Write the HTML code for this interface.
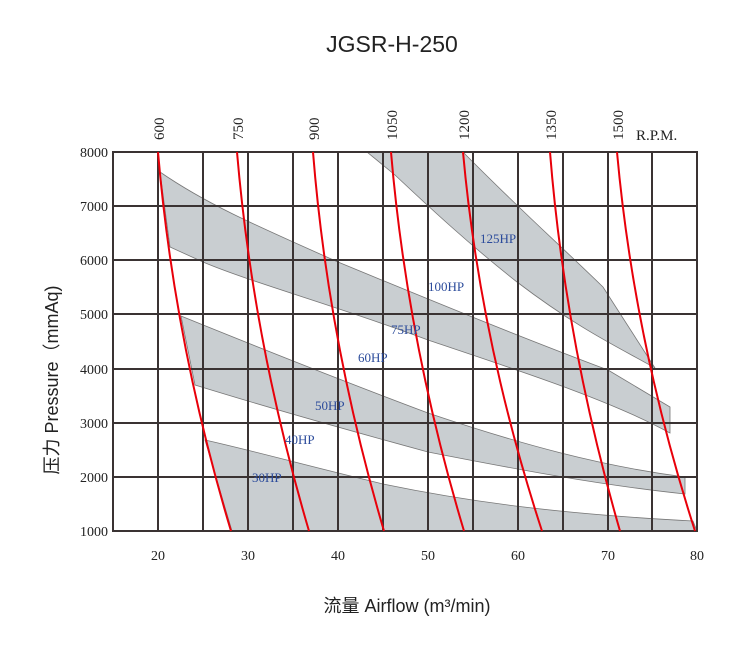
<!DOCTYPE html>
<html><head><meta charset="utf-8"><style>body{margin:0;background:#fff}svg{display:block}</style></head><body>
<svg width="750" height="650" viewBox="0 0 750 650" xmlns="http://www.w3.org/2000/svg">
<text x="392" y="52" font-family="Liberation Sans, sans-serif" font-size="23" text-anchor="middle" fill="#222">JGSR-H-250</text>
<g fill="#c9ced1" stroke="#777" stroke-width="0.8">
<path d="M205,440 C250,450 300,464 383,484 C470,502 560,514 693,521 L697,531 L232,531 Z"/>
<path d="M181,316 C250,344 340,380 428,413 C520,444 600,466 685,477 L685,494 C600,485 520,470 428,452 C340,428 250,402 195,385 Z"/>
<path d="M160,172 C205,203 250,223 338,262 C430,300 520,337 608,370 L670,407 L670,433 C610,400 520,371 428,340 C340,307 250,282 203,262 L170,247 Z"/>
<path d="M367,152 L463,152 C520,210 560,245 603,287 L655,368 C620,348 580,330 517,282 C470,245 430,208 395,175 Z"/>
</g>
<g stroke="#3a3333" stroke-width="2" fill="none">
<rect x="113" y="152" width="584" height="379"/>
<path d="M158,152V531M203,152V531M248,152V531M293,152V531M338,152V531M383,152V531M428,152V531M473,152V531M518,152V531M563,152V531M608,152V531M652,152V531"/>
<path d="M113,206H697M113,260H697M113,314H697M113,369H697M113,423H697M113,477H697"/>
</g>
<g stroke="#e8000a" stroke-width="2" fill="none">
<path d="M158,152 Q174,341 231,531"/>
<path d="M237,152 Q253,341 309,531"/>
<path d="M313,152 Q328,341 384,531"/>
<path d="M391,152 Q407,341 464,531"/>
<path d="M463,152 Q480,341 542,531"/>
<path d="M550,152 Q565,341 620,531"/>
<path d="M617,152 Q634,341 695,531"/>
</g>
<g font-family="Liberation Serif, serif" font-size="14" fill="#222" text-anchor="end">
<text x="108" y="157">8000</text><text x="108" y="211">7000</text><text x="108" y="265">6000</text><text x="108" y="319">5000</text><text x="108" y="374">4000</text><text x="108" y="428">3000</text><text x="108" y="482">2000</text><text x="108" y="536">1000</text>
</g>
<g font-family="Liberation Serif, serif" font-size="14" fill="#222" text-anchor="middle">
<text x="158" y="560">20</text><text x="248" y="560">30</text><text x="338" y="560">40</text><text x="428" y="560">50</text><text x="518" y="560">60</text><text x="608" y="560">70</text><text x="697" y="560">80</text>
</g>
<g font-family="Liberation Serif, serif" font-size="15" fill="#222">
<text transform="translate(164,140) rotate(-90)">600</text>
<text transform="translate(243,140) rotate(-90)">750</text>
<text transform="translate(319,140) rotate(-90)">900</text>
<text transform="translate(397,140) rotate(-90)">1050</text>
<text transform="translate(469,140) rotate(-90)">1200</text>
<text transform="translate(556,140) rotate(-90)">1350</text>
<text transform="translate(623,140) rotate(-90)">1500</text>
<text x="636" y="140">R.P.M.</text>
</g>
<g font-family="Liberation Serif, serif" font-size="13" fill="#2b4b9b">
<text x="480" y="243">125HP</text><text x="428" y="291">100HP</text><text x="391" y="334">75HP</text><text x="358" y="362">60HP</text><text x="315" y="410">50HP</text><text x="285" y="444">40HP</text><text x="252" y="482">30HP</text>
</g>
<text transform="translate(58,380) rotate(-90)" font-family="Liberation Sans, 'Noto Sans CJK SC', sans-serif" font-size="18" text-anchor="middle" fill="#222">压力 Pressure（mmAq)</text>
<text x="407" y="612" font-family="Liberation Sans, 'Noto Sans CJK SC', sans-serif" font-size="18" text-anchor="middle" fill="#222">流量 Airflow (m³/min)</text>
</svg>
</body></html>
